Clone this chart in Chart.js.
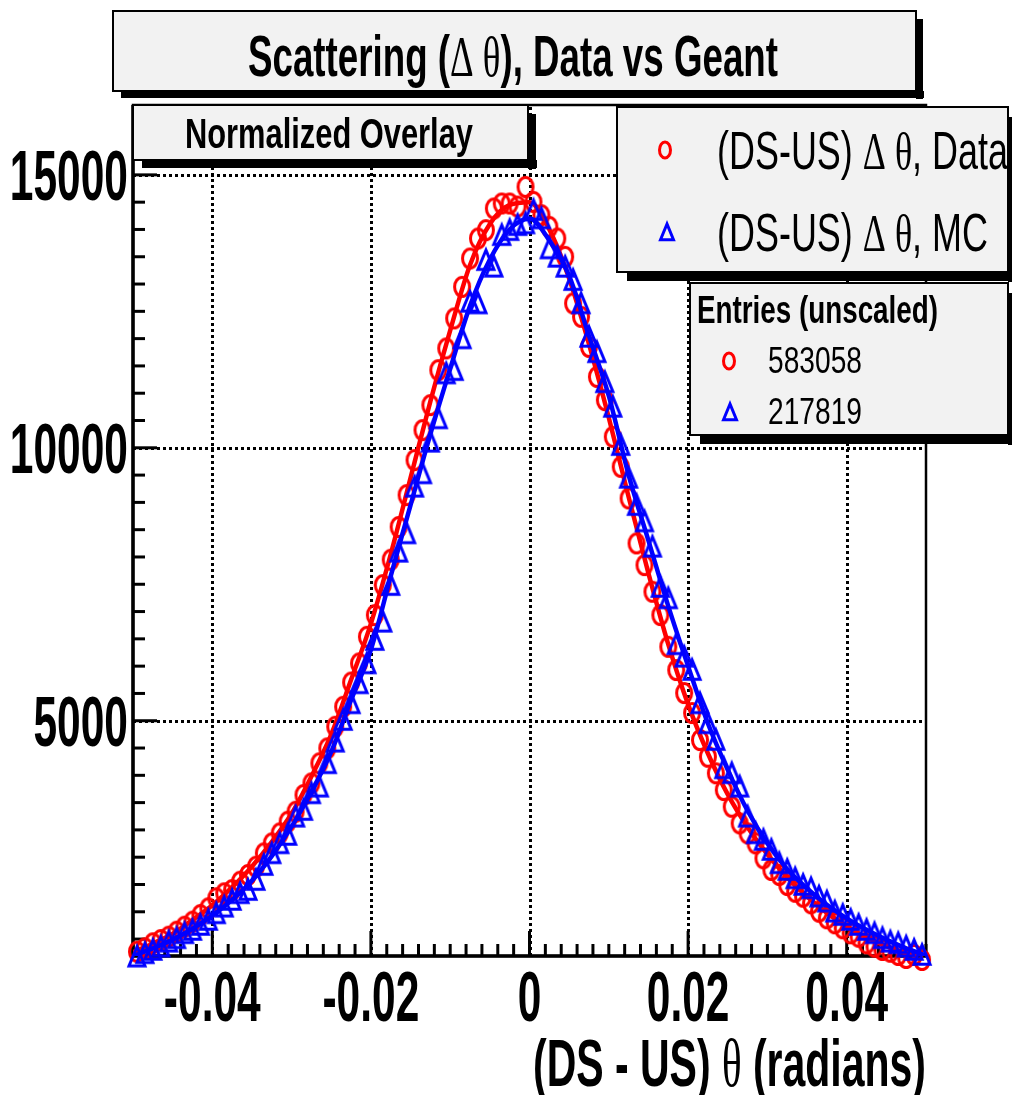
<!DOCTYPE html>
<html><head><meta charset="utf-8">
<script src="https://cdn.jsdelivr.net/npm/chart.js@4.4.1/dist/chart.umd.min.js"></script>
<style>html,body{margin:0;padding:0;background:#fff;overflow:hidden}canvas{display:block}</style>
</head><body>
<canvas id="c" width="1012" height="1095" style="width:1012px;height:1095px"></canvas>
<script>
// ---------------- data ----------------
const binCenters = [
 -0.0495,-0.0485,-0.0475,-0.0465,-0.0455,-0.0445,-0.0435,-0.0425,-0.0415,-0.0405,
 -0.0395,-0.0385,-0.0375,-0.0365,-0.0355,-0.0345,-0.0335,-0.0325,-0.0315,-0.0305,
 -0.0295,-0.0285,-0.0275,-0.0265,-0.0255,-0.0245,-0.0235,-0.0225,-0.0215,-0.0205,
 -0.0195,-0.0185,-0.0175,-0.0165,-0.0155,-0.0145,-0.0135,-0.0125,-0.0115,-0.0105,
 -0.0095,-0.0085,-0.0075,-0.0065,-0.0055,-0.0045,-0.0035,-0.0025,-0.0015,-0.0005,
 0.0005,0.0015,0.0025,0.0035,0.0045,0.0055,0.0065,0.0075,0.0085,0.0095,
 0.0105,0.0115,0.0125,0.0135,0.0145,0.0155,0.0165,0.0175,0.0185,0.0195,
 0.0205,0.0215,0.0225,0.0235,0.0245,0.0255,0.0265,0.0275,0.0285,0.0295,
 0.0305,0.0315,0.0325,0.0335,0.0345,0.0355,0.0365,0.0375,0.0385,0.0395,
 0.0405,0.0415,0.0425,0.0435,0.0445,0.0455,0.0465,0.0475,0.0485,0.0495
];
const dataCounts = [
 769,831,923,983,1044,1136,1227,1319,1441,1564,
 1747,1839,1899,2051,2174,2326,2571,2754,2937,3150,
 3333,3639,3853,4220,4494,4890,5256,5700,6050,6538,
 6935,7485,7950,8550,9134,9775,10324,10782,11423,11821,
 12370,12949,13469,13835,13987,14384,14476,14476,14420,14780,
 14505,14262,14048,13835,13498,12645,12400,11850,11300,10874,
 10202,9652,9073,8249,7851,7363,6936,6355,5929,5507,
 5141,4647,4341,4037,3731,3425,3120,2937,2754,2480,
 2266,2174,1991,1868,1777,1656,1502,1381,1289,1198,
 1106,1044,923,861,800,769,709,654,709,617
];
const mcCounts = [
 678,740,800,861,952,1015,1106,1167,1258,1350,
 1472,1593,1716,1839,1899,2082,2357,2571,2754,2907,
 3242,3364,3670,3791,4220,4615,5013,5319,5685,6050,
 6478,6813,7485,8095,8432,9286,9531,10110,10538,11362,
 11423,12004,12674,12644,13438,13316,13896,13987,14079,14110,
 14354,14201,13652,13498,13315,13072,12645,12033,11750,11200,
 10750,10050,9450,8950,8650,8187,7450,7241,6400,6172,
 5929,5319,4952,4647,4128,4037,3791,3242,2937,2815,
 2632,2388,2266,2113,1991,1930,1777,1685,1502,1441,
 1350,1258,1167,1106,1015,952,923,861,800,709
];
const fitX = [
 -0.05,-0.0475,-0.045,-0.0425,-0.04,-0.0375,-0.035,-0.0325,-0.03,-0.0275,
 -0.025,-0.0225,-0.02,-0.0175,-0.015,-0.0125,-0.01,-0.0075,-0.005,-0.0025,
 0,0.0025,0.005,0.0075,0.01,0.0125,0.015,0.0175,0.02,0.0225,
 0.025,0.0275,0.03,0.0325,0.035,0.0375,0.04,0.0425,0.045,0.0475,0.05
];
const dataFit = [
 760,920,1100,1350,1620,1950,2330,2780,3300,3980,
 4750,5750,6780,8050,9450,10850,12150,13350,14100,14450,
 14500,14000,13100,11900,10550,9100,7700,6400,5300,4400,
 3650,3050,2550,2130,1780,1480,1230,1030,870,740,640
];
const mcFit = [
 690,830,990,1190,1430,1720,2070,2520,3060,3700,
 4430,5380,6300,7650,8950,10250,11450,12600,13450,14000,
 14200,13800,13150,12050,10950,9500,8300,7100,6000,4950,
 4100,3350,2750,2280,1930,1630,1380,1170,990,830,700
];
const xTicks = [-0.04, -0.02, 0, 0.02, 0.04];
const xTickLabels = ['-0.04', '-0.02', '0', '0.02', '0.04'];
const yTicks = [5000, 10000, 15000];
const yTickLabels = ['5000', '10000', '15000'];
const seriesNames = ['(DS-US) \u0394 \u03b8, Data', '(DS-US) \u0394 \u03b8, MC'];
const entryCounts = ['583058', '217819'];

// ---------------- styling helpers ----------------
const RED = '#ff0000', BLUE = '#0000ff';
const SANS = "'Liberation Sans', Arial, Helvetica, sans-serif";
const GREEK = "'Liberation Serif', 'DejaVu Serif', serif";
function segFont(s, px){ return (s.b ? 'bold ' : '') + px + 'px ' + (s.g ? GREEK : SANS); }
function measureSegs(ctx, segs, F){
  let t = 0;
  for (const s of segs){ ctx.font = segFont(s, F); s.w = ctx.measureText(s.t).width; t += s.w; }
  return t;
}
function drawRich(ctx, segs, o){
  const F = 100;
  const total = measureSegs(ctx, segs, F);
  const sx = o.sx ? o.sx : o.width / total;
  const sy = o.cap / (0.716 * F);
  const w = total * sx;
  let left = o.x;
  if (o.align === 'right') left = o.x - w;
  else if (o.align === 'center') left = o.x - w / 2;
  ctx.save();
  ctx.translate(left, o.base);
  ctx.scale(sx, sy);
  ctx.fillStyle = '#000'; ctx.textAlign = 'left'; ctx.textBaseline = 'alphabetic';
  let cx = 0;
  for (const s of segs){ ctx.font = segFont(s, F); ctx.fillText(s.t, cx, 0); cx += s.w; }
  ctx.restore();
  return sx;
}
function sxFor(ctx, segs, width){ return width / measureSegs(ctx, segs, 100); }

function pave(ctx, x, y, w, h, sh){
  ctx.save();
  ctx.fillStyle = '#000';
  ctx.fillRect(x + sh + 2, y + h, w, sh + 1);
  ctx.fillRect(x + w, y + sh + 2, sh + 1, h);
  ctx.fillStyle = '#f2f2f2';
  ctx.fillRect(x, y, w, h);
  ctx.strokeStyle = '#000'; ctx.lineWidth = 2;
  ctx.strokeRect(x, y, w, h);
  ctx.restore();
}
function circleMark(ctx, cx, cy, rx, ry, lw){
  ctx.save(); ctx.strokeStyle = RED; ctx.lineWidth = lw;
  ctx.beginPath(); ctx.ellipse(cx, cy, rx, ry, 0, 0, Math.PI * 2); ctx.stroke(); ctx.restore();
}
function triMark(ctx, cx, cy, hw, hh, lw){
  ctx.save(); ctx.strokeStyle = BLUE; ctx.lineWidth = lw; ctx.lineJoin = 'miter';
  ctx.beginPath(); ctx.moveTo(cx, cy - hh); ctx.lineTo(cx - hw, cy + hh * 0.75); ctx.lineTo(cx + hw, cy + hh * 0.75);
  ctx.closePath(); ctx.stroke(); ctx.restore();
}
function makeImg(draw, w, h){
  const c = document.createElement('canvas'); c.width = w; c.height = h;
  draw(c.getContext('2d'), w, h); return c;
}
const circleImg = makeImg((c, w, h) => circleMark(c, w / 2, h / 2, 7.5, 9.5, 3), 22, 26);
const triImg = makeImg((c, w, h) => triMark(c, w / 2, h / 2 + 1, 8, 11, 3), 24, 30);

// ---------------- decorations plugin ----------------
const rootStyle = {
  id: 'rootStyle',
  beforeDatasetsDraw(chart){
    const { ctx, chartArea: a, scales: { x, y } } = chart;
    ctx.save();
    ctx.strokeStyle = '#000'; ctx.lineWidth = 3; ctx.setLineDash([3, 3]);
    xTicks.forEach(v => { const p = Math.round(x.getPixelForValue(v)) + 0.5;
      ctx.beginPath(); ctx.moveTo(p, a.bottom); ctx.lineTo(p, a.top); ctx.stroke(); });
    yTicks.forEach(v => { const p = Math.round(y.getPixelForValue(v)) + 0.5;
      ctx.beginPath(); ctx.moveTo(a.left, p); ctx.lineTo(a.right, p); ctx.stroke(); });
    ctx.setLineDash([]);
    ctx.lineWidth = 2.5;
    ctx.strokeRect(a.left, a.top, a.right - a.left, a.bottom - a.top);
    ctx.lineWidth = 3.5;
    ctx.beginPath(); ctx.moveTo(a.left, a.top); ctx.lineTo(a.left, a.bottom); ctx.lineTo(a.right, a.bottom); ctx.stroke();
    ctx.lineWidth = 3;
    for (let v = 1000; v <= y.max; v += 500){
      const p = y.getPixelForValue(v); const major = yTicks.includes(v);
      ctx.beginPath(); ctx.moveTo(a.left, p); ctx.lineTo(a.left + (major ? 24 : 12), p); ctx.stroke();
    }
    for (let k = -25; k <= 25; k++){
      const v = k * 0.002; const p = x.getPixelForValue(v);
      const major = (k % 10 === 0 && k !== 25 && k !== -25) || k === 0;
      ctx.beginPath(); ctx.moveTo(p, a.bottom); ctx.lineTo(p, a.bottom - (major ? 25 : 12)); ctx.stroke();
    }
    ctx.restore();
  },
  afterDatasetsDraw(chart){
    const { ctx, chartArea: a, scales: { x, y } } = chart;
    yTicks.forEach((v, i) => drawRich(ctx, [{ t: yTickLabels[i], b: 1 }],
      { x: a.left - 5, base: y.getPixelForValue(v) + 25, sx: 0.425, cap: 50, align: 'right' }));
    xTicks.forEach((v, i) => drawRich(ctx, [{ t: xTickLabels[i], b: 1 }],
      { x: x.getPixelForValue(v), base: a.bottom + 65, sx: 0.425, cap: 50, align: 'center' }));
    drawRich(ctx, [{ t: '(DS - US) ', b: 1 }, { t: '\u03b8', g: 1 }, { t: ' (radians)', b: 1 }],
      { x: a.right, base: 1086, width: 393, cap: 48, align: 'right' });
    pave(ctx, 113, 11, 803, 80, 6);
    drawRich(ctx, [{ t: 'Scattering (', b: 1 }, { t: '\u0394 \u03b8', g: 1 }, { t: '), Data vs Geant', b: 1 }],
      { x: 248, base: 76, width: 530, cap: 41 });
    pave(ctx, 133, 105, 395, 55, 7);
    drawRich(ctx, [{ t: 'Normalized Overlay', b: 1 }], { x: 185, base: 148, width: 288, cap: 31 });
    pave(ctx, 617, 107, 391, 165, 8);
    const s1 = [{ t: '(DS-US) ' }, { t: '\u0394 \u03b8', g: 1 }, { t: ', MC' }];
    const sxL = sxFor(ctx, s1, 271);
    circleMark(ctx, 665, 150, 5.5, 8, 3);
    drawRich(ctx, [{ t: '(DS-US) ' }, { t: '\u0394 \u03b8', g: 1 }, { t: ', Data' }], { x: 717, base: 169, sx: sxL, cap: 38 });
    triMark(ctx, 667, 233, 6.5, 9, 3);
    drawRich(ctx, s1, { x: 717, base: 251, sx: sxL, cap: 38 });
    pave(ctx, 690, 283, 318, 152, 8);
    drawRich(ctx, [{ t: 'Entries (unscaled)', b: 1 }], { x: 697, base: 323, width: 241, cap: 28 });
    circleMark(ctx, 729, 361, 5.5, 8, 3);
    drawRich(ctx, [{ t: entryCounts[0] }], { x: 768, base: 373, width: 94, cap: 26 });
    triMark(ctx, 730, 413, 6.5, 9, 3);
    drawRich(ctx, [{ t: entryCounts[1] }], { x: 768, base: 424, width: 94, cap: 26 });
  }
};

// ---------------- chart ----------------
const pts = (xs, ys) => xs.map((v, i) => ({ x: v, y: ys[i] }));
new Chart(document.getElementById('c'), {
  type: 'scatter',
  data: {
    datasets: [
      { label: seriesNames[1] + ' fit', data: pts(fitX, mcFit), showLine: true, borderColor: BLUE, borderWidth: 4.5,
        pointRadius: 0, cubicInterpolationMode: 'monotone', order: 1 },
      { label: seriesNames[1], data: pts(binCenters, mcCounts), showLine: false, pointStyle: triImg,
        pointRadius: 10, order: 2, clip: false },
      { label: seriesNames[0] + ' fit', data: pts(fitX, dataFit), showLine: true, borderColor: RED, borderWidth: 4.5,
        pointRadius: 0, cubicInterpolationMode: 'monotone', order: 3 },
      { label: seriesNames[0], data: pts(binCenters, dataCounts), showLine: false, pointStyle: circleImg,
        pointRadius: 10, order: 4, clip: false }
    ]
  },
  options: {
    responsive: false, animation: false, devicePixelRatio: 1,
    layout: { padding: { left: 133, right: 86, top: 105, bottom: 139 } },
    plugins: { legend: { display: false }, tooltip: { enabled: false }, title: { display: false } },
    scales: {
      x: { type: 'linear', min: -0.05, max: 0.05, grid: { display: false }, border: { display: false },
        ticks: { display: false }, afterFit(s){ s.height = 0; },
        afterBuildTicks(s){ s.ticks = xTicks.map(v => ({ value: v })); } },
      y: { type: 'linear', min: 690, max: 16280, grid: { display: false }, border: { display: false },
        ticks: { display: false }, afterFit(s){ s.width = 0; },
        afterBuildTicks(s){ s.ticks = yTicks.map(v => ({ value: v })); } }
    }
  },
  plugins: [rootStyle]
});
</script>
</body></html>
